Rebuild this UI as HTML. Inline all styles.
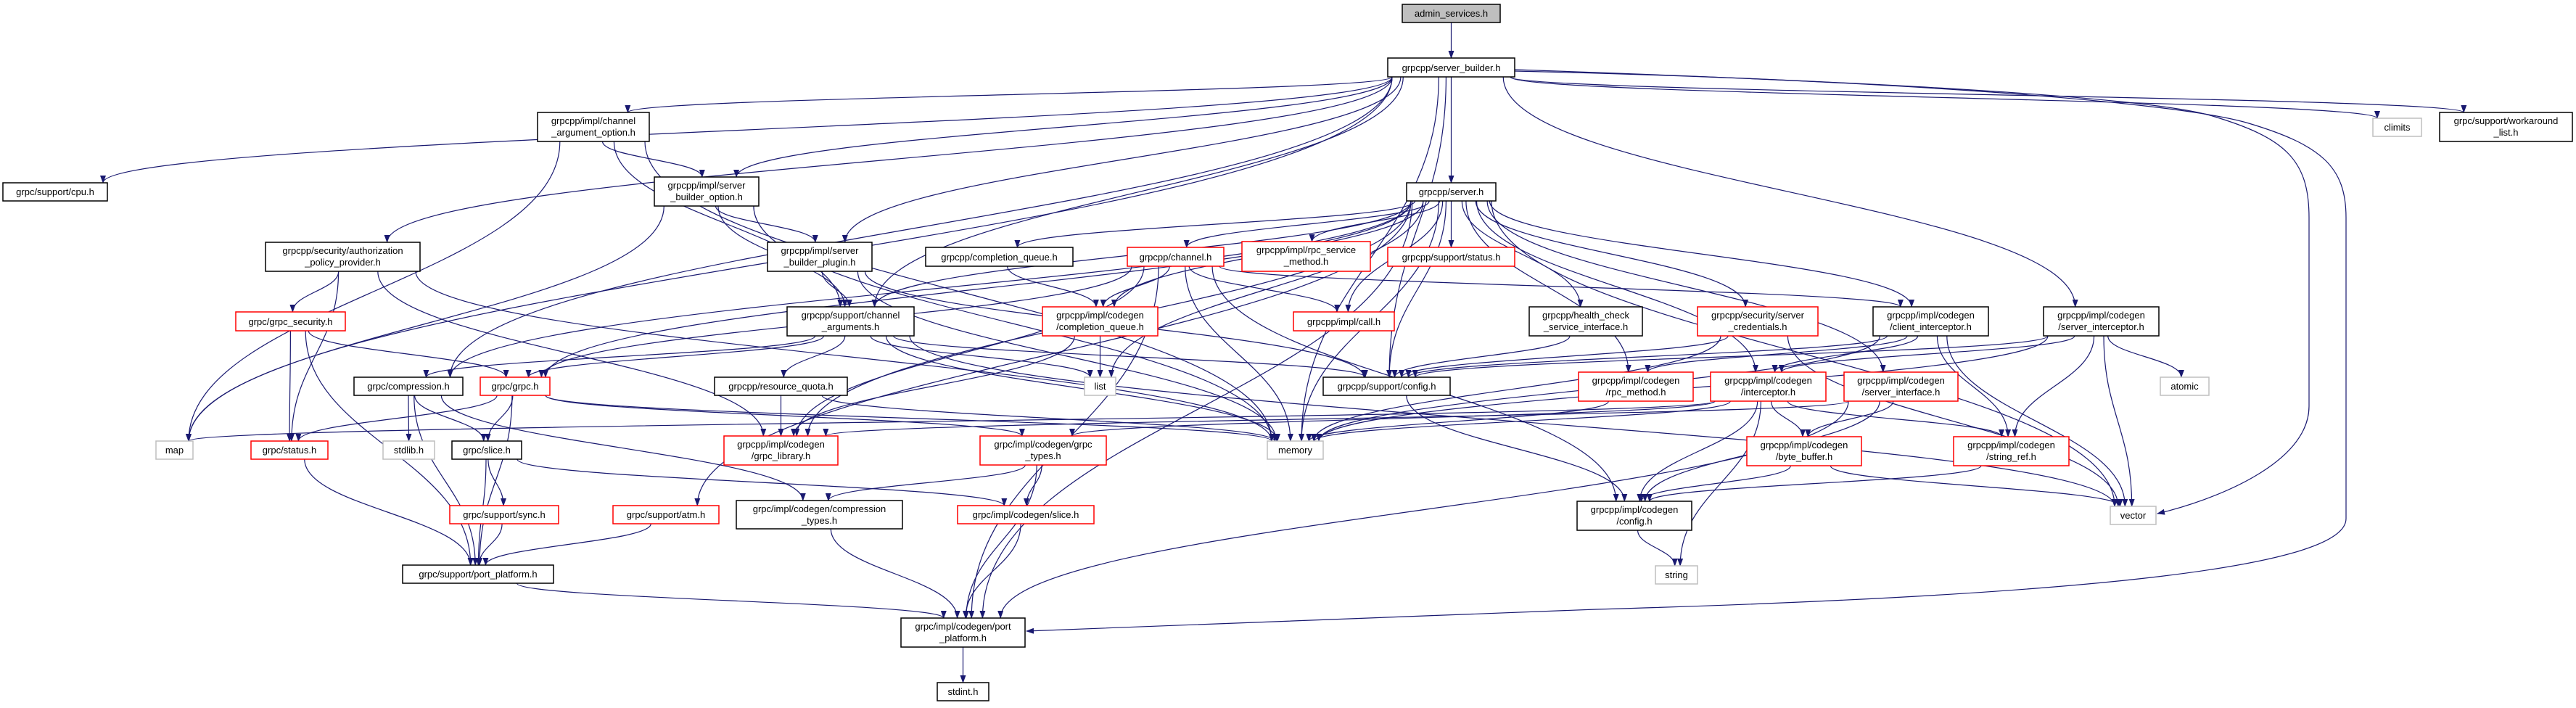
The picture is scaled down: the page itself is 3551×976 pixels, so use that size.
<!DOCTYPE html>
<html><head><meta charset="utf-8">
<style>
html,body{margin:0;padding:0;background:#fff;}
svg{display:block;}
text{font-family:"Liberation Sans",sans-serif;font-size:13px;fill:#000;}
</style></head>
<body>
<svg id="g" width="3551" height="976" viewBox="0 0 3551 976" xmlns="http://www.w3.org/2000/svg">
<defs>
<marker id="ah" markerWidth="11" markerHeight="8" refX="10" refY="4" orient="auto" markerUnits="userSpaceOnUse">
<path d="M0,0 L11,4 L0,8 z" fill="#191970"/>
</marker>
</defs>
<g id="edges" fill="none" stroke="#191970" stroke-width="1.2"></g>
<g id="nodes" stroke-width="1.5">
<g id="admin"><rect x="1933" y="6" width="135" height="25" fill="#bfbfbf" stroke="#000"/><text x="2000.5" y="23" text-anchor="middle">admin_services.h</text></g>
<g id="sb"><rect x="1913" y="80" width="175" height="26" fill="#fff" stroke="#000"/><text x="2000.5" y="98" text-anchor="middle">grpcpp/server_builder.h</text></g>
<g id="cpu"><rect x="4" y="252" width="144" height="25" fill="#fff" stroke="#000"/><text x="76" y="269" text-anchor="middle">grpc/support/cpu.h</text></g>
<g id="cao"><rect x="741" y="155" width="154" height="40" fill="#fff" stroke="#000"/><text x="818" y="171" text-anchor="middle">grpcpp/impl/channel</text><text x="818" y="187" text-anchor="middle">_argument_option.h</text></g>
<g id="clim"><rect x="3271" y="163" width="67" height="25" fill="#fff" stroke="#bfbfbf"/><text x="3304.5" y="180" text-anchor="middle">climits</text></g>
<g id="wal"><rect x="3363" y="155" width="183" height="40" fill="#fff" stroke="#000"/><text x="3454.5" y="171" text-anchor="middle">grpc/support/workaround</text><text x="3454.5" y="187" text-anchor="middle">_list.h</text></g>
<g id="sbo"><rect x="902" y="244" width="144" height="40" fill="#fff" stroke="#000"/><text x="974" y="260" text-anchor="middle">grpcpp/impl/server</text><text x="974" y="276" text-anchor="middle">_builder_option.h</text></g>
<g id="srv"><rect x="1939" y="252" width="123" height="25" fill="#fff" stroke="#000"/><text x="2000.5" y="269" text-anchor="middle">grpcpp/server.h</text></g>
<g id="auth"><rect x="366" y="334" width="213" height="40" fill="#fff" stroke="#000"/><text x="472.5" y="350" text-anchor="middle">grpcpp/security/authorization</text><text x="472.5" y="366" text-anchor="middle">_policy_provider.h</text></g>
<g id="sbp"><rect x="1058" y="334" width="144" height="40" fill="#fff" stroke="#000"/><text x="1130" y="350" text-anchor="middle">grpcpp/impl/server</text><text x="1130" y="366" text-anchor="middle">_builder_plugin.h</text></g>
<g id="cq"><rect x="1276" y="341" width="203" height="26" fill="#fff" stroke="#000"/><text x="1377.5" y="359" text-anchor="middle">grpcpp/completion_queue.h</text></g>
<g id="chan"><rect x="1554" y="341" width="133" height="26" fill="#fff" stroke="#ff0000"/><text x="1620.5" y="359" text-anchor="middle">grpcpp/channel.h</text></g>
<g id="rsm"><rect x="1712" y="333" width="177" height="41" fill="#fff" stroke="#ff0000"/><text x="1800.5" y="349" text-anchor="middle">grpcpp/impl/rpc_service</text><text x="1800.5" y="365" text-anchor="middle">_method.h</text></g>
<g id="st"><rect x="1913" y="341" width="175" height="26" fill="#fff" stroke="#ff0000"/><text x="2000.5" y="359" text-anchor="middle">grpcpp/support/status.h</text></g>
<g id="hc"><rect x="2108" y="423" width="156" height="40" fill="#fff" stroke="#000"/><text x="2186" y="439" text-anchor="middle">grpcpp/health_check</text><text x="2186" y="455" text-anchor="middle">_service_interface.h</text></g>
<g id="sc"><rect x="2340" y="423" width="166" height="40" fill="#fff" stroke="#ff0000"/><text x="2423" y="439" text-anchor="middle">grpcpp/security/server</text><text x="2423" y="455" text-anchor="middle">_credentials.h</text></g>
<g id="ci"><rect x="2582" y="423" width="159" height="40" fill="#fff" stroke="#000"/><text x="2661.5" y="439" text-anchor="middle">grpcpp/impl/codegen</text><text x="2661.5" y="455" text-anchor="middle">/client_interceptor.h</text></g>
<g id="si"><rect x="2817" y="423" width="159" height="40" fill="#fff" stroke="#000"/><text x="2896.5" y="439" text-anchor="middle">grpcpp/impl/codegen</text><text x="2896.5" y="455" text-anchor="middle">/server_interceptor.h</text></g>
<g id="gsec"><rect x="325" y="430" width="151" height="26" fill="#fff" stroke="#ff0000"/><text x="400.5" y="448" text-anchor="middle">grpc/grpc_security.h</text></g>
<g id="ca"><rect x="1085" y="423" width="175" height="40" fill="#fff" stroke="#000"/><text x="1172.5" y="439" text-anchor="middle">grpcpp/support/channel</text><text x="1172.5" y="455" text-anchor="middle">_arguments.h</text></g>
<g id="ccq"><rect x="1437" y="423" width="159" height="40" fill="#fff" stroke="#ff0000"/><text x="1516.5" y="439" text-anchor="middle">grpcpp/impl/codegen</text><text x="1516.5" y="455" text-anchor="middle">/completion_queue.h</text></g>
<g id="call"><rect x="1783" y="430" width="139" height="26" fill="#fff" stroke="#ff0000"/><text x="1852.5" y="448" text-anchor="middle">grpcpp/impl/call.h</text></g>
<g id="comp"><rect x="488" y="520" width="150" height="25" fill="#fff" stroke="#000"/><text x="563" y="537" text-anchor="middle">grpc/compression.h</text></g>
<g id="grpc"><rect x="662" y="520" width="96" height="25" fill="#fff" stroke="#ff0000"/><text x="710" y="537" text-anchor="middle">grpc/grpc.h</text></g>
<g id="rq"><rect x="985" y="520" width="183" height="25" fill="#fff" stroke="#000"/><text x="1076.5" y="537" text-anchor="middle">grpcpp/resource_quota.h</text></g>
<g id="list"><rect x="1495" y="520" width="43" height="25" fill="#fff" stroke="#bfbfbf"/><text x="1516.5" y="537" text-anchor="middle">list</text></g>
<g id="cfg"><rect x="1824" y="520" width="175" height="25" fill="#fff" stroke="#000"/><text x="1911.5" y="537" text-anchor="middle">grpcpp/support/config.h</text></g>
<g id="rm"><rect x="2176" y="513" width="158" height="40" fill="#fff" stroke="#ff0000"/><text x="2255" y="529" text-anchor="middle">grpcpp/impl/codegen</text><text x="2255" y="545" text-anchor="middle">/rpc_method.h</text></g>
<g id="ic"><rect x="2358" y="513" width="159" height="40" fill="#fff" stroke="#ff0000"/><text x="2437.5" y="529" text-anchor="middle">grpcpp/impl/codegen</text><text x="2437.5" y="545" text-anchor="middle">/interceptor.h</text></g>
<g id="sif"><rect x="2542" y="513" width="157" height="40" fill="#fff" stroke="#ff0000"/><text x="2620.5" y="529" text-anchor="middle">grpcpp/impl/codegen</text><text x="2620.5" y="545" text-anchor="middle">/server_interface.h</text></g>
<g id="atomic"><rect x="2978" y="520" width="67" height="25" fill="#fff" stroke="#bfbfbf"/><text x="3011.5" y="537" text-anchor="middle">atomic</text></g>
<g id="map"><rect x="215" y="608" width="51" height="25" fill="#fff" stroke="#bfbfbf"/><text x="240.5" y="625" text-anchor="middle">map</text></g>
<g id="gst"><rect x="346" y="608" width="106" height="25" fill="#fff" stroke="#ff0000"/><text x="399" y="625" text-anchor="middle">grpc/status.h</text></g>
<g id="stdlib"><rect x="528" y="608" width="71" height="25" fill="#fff" stroke="#bfbfbf"/><text x="563.5" y="625" text-anchor="middle">stdlib.h</text></g>
<g id="slice"><rect x="623" y="608" width="96" height="25" fill="#fff" stroke="#000"/><text x="671" y="625" text-anchor="middle">grpc/slice.h</text></g>
<g id="glib"><rect x="998" y="601" width="157" height="40" fill="#fff" stroke="#ff0000"/><text x="1076.5" y="617" text-anchor="middle">grpcpp/impl/codegen</text><text x="1076.5" y="633" text-anchor="middle">/grpc_library.h</text></g>
<g id="gt"><rect x="1351" y="601" width="174" height="40" fill="#fff" stroke="#ff0000"/><text x="1438" y="617" text-anchor="middle">grpc/impl/codegen/grpc</text><text x="1438" y="633" text-anchor="middle">_types.h</text></g>
<g id="mem"><rect x="1747" y="608" width="77" height="25" fill="#fff" stroke="#bfbfbf"/><text x="1785.5" y="625" text-anchor="middle">memory</text></g>
<g id="bb"><rect x="2408" y="602" width="158" height="40" fill="#fff" stroke="#ff0000"/><text x="2487" y="618" text-anchor="middle">grpcpp/impl/codegen</text><text x="2487" y="634" text-anchor="middle">/byte_buffer.h</text></g>
<g id="sr"><rect x="2693" y="602" width="159" height="40" fill="#fff" stroke="#ff0000"/><text x="2772.5" y="618" text-anchor="middle">grpcpp/impl/codegen</text><text x="2772.5" y="634" text-anchor="middle">/string_ref.h</text></g>
<g id="vec"><rect x="2909" y="698" width="63" height="25" fill="#fff" stroke="#bfbfbf"/><text x="2940.5" y="715" text-anchor="middle">vector</text></g>
<g id="sync"><rect x="620" y="697" width="150" height="25" fill="#fff" stroke="#ff0000"/><text x="695" y="714" text-anchor="middle">grpc/support/sync.h</text></g>
<g id="atm"><rect x="845" y="697" width="146" height="25" fill="#fff" stroke="#ff0000"/><text x="918" y="714" text-anchor="middle">grpc/support/atm.h</text></g>
<g id="ct"><rect x="1015" y="690" width="229" height="39" fill="#fff" stroke="#000"/><text x="1129.5" y="706" text-anchor="middle">grpc/impl/codegen/compression</text><text x="1129.5" y="722" text-anchor="middle">_types.h</text></g>
<g id="cs"><rect x="1320" y="697" width="188" height="25" fill="#fff" stroke="#ff0000"/><text x="1414" y="714" text-anchor="middle">grpc/impl/codegen/slice.h</text></g>
<g id="ccfg"><rect x="2174" y="691" width="158" height="40" fill="#fff" stroke="#000"/><text x="2253" y="707" text-anchor="middle">grpcpp/impl/codegen</text><text x="2253" y="723" text-anchor="middle">/config.h</text></g>
<g id="pp"><rect x="555" y="779" width="208" height="25" fill="#fff" stroke="#000"/><text x="659" y="796" text-anchor="middle">grpc/support/port_platform.h</text></g>
<g id="str"><rect x="2282" y="780" width="58" height="25" fill="#fff" stroke="#bfbfbf"/><text x="2311" y="797" text-anchor="middle">string</text></g>
<g id="cpp"><rect x="1242" y="852" width="171" height="40" fill="#fff" stroke="#000"/><text x="1327.5" y="868" text-anchor="middle">grpc/impl/codegen/port</text><text x="1327.5" y="884" text-anchor="middle">_platform.h</text></g>
<g id="stdint"><rect x="1292" y="941" width="71" height="25" fill="#fff" stroke="#000"/><text x="1327.5" y="958" text-anchor="middle">stdint.h</text></g>
</g>
</svg>
<script>
(function(){
var E=[
["admin","sb"],
["sb","cpu"],["sb","map"],["sb","cao"],["sb","auth"],["sb","comp"],["sb","sbo"],["sb","sbp"],["sb","srv"],["sb","cfg"],["sb","si"],["sb","clim"],["sb","wal"],["sb","ca"],["sb","mem"],
["srv","cq"],["srv","chan"],["srv","rsm"],["srv","st"],["srv","call"],["srv","hc"],["srv","sc"],["srv","ci"],["srv","ca"],["srv","comp"],["srv","ccq"],["srv","list"],["srv","mem"],["srv","cfg"],["srv","rm"],["srv","ic"],["srv","sif"],["srv","vec"],["srv","atm"],["srv","cpp"],["srv","grpc"],["srv","glib"],
["cao","map"],["cao","sbo"],["cao","ca"],["cao","mem"],
["sbo","map"],["sbo","sbp"],["sbo","ca"],["sbo","mem"],
["sbp","ca"],["sbp","cfg"],["sbp","mem"],
["auth","gsec"],["auth","gst"],["auth","glib"],["auth","mem"],
["gsec","grpc"],["gsec","gst"],["gsec","pp"],
["ca","grpc"],["ca","comp"],["ca","rq"],["ca","list"],["ca","cfg"],["ca","vec"],["ca","mem"],
["rq","glib"],["rq","mem"],
["cq","ccq"],
["chan","ccq"],["chan","call"],["chan","grpc"],["chan","glib"],["chan","mem"],["chan","ccfg"],["chan","ci"],["chan","cpp"],
["ccq","list"],["ccq","glib"],
["comp","pp"],["comp","stdlib"],["comp","slice"],["comp","ct"],
["grpc","gst"],["grpc","slice"],["grpc","gt"],["grpc","pp"],["grpc","mem"],
["slice","sync"],["slice","pp"],["slice","cs"],
["sync","pp"],["atm","pp"],["gst","pp"],["pp","cpp"],
["gt","ct"],["gt","cs"],["gt","cpp"],["ct","cpp"],["cs","cpp"],["cpp","stdint"],
["hc","cfg"],["sc","cfg"],["sc","mem"],["sc","vec"],
["ci","cfg"],["ci","mem"],["ci","ic"],["ci","sr"],["ci","vec"],["ci","rm"],
["si","atomic"],["si","vec"],["si","sr"],["si","ic"],["si","mem"],["si","cfg"],
["rm","mem"],
["ic","mem"],["ic","ccfg"],["ic","bb"],["ic","sr"],["ic","str"],["ic","gt"],["ic","map"],
["sif","bb"],["sif","ccfg"],["sif","cpp"],["sif","glib"],
["bb","ccfg"],["bb","vec"],["sr","ccfg"],["cfg","ccfg"],["ccfg","str"]
];
function R(id){var r=document.querySelector('#'+id+' rect');var x=+r.getAttribute('x'),y=+r.getAttribute('y'),w=+r.getAttribute('width'),h=+r.getAttribute('height');return {x:x,y:y,x2:x+w,y2:y+h,cx:x+w/2,cy:y+h/2,hw:w/2,hh:h/2};}
function clip(r,dx,dy){var t=Infinity;if(dx)t=Math.min(t,r.hw/Math.abs(dx));if(dy)t=Math.min(t,r.hh/Math.abs(dy));return [r.cx+dx*t,r.cy+dy*t];}
function cl(v,a,b){return Math.max(a,Math.min(b,v));}
var g=document.getElementById('edges');var ns='http://www.w3.org/2000/svg';
function add(d){var p=document.createElementNS(ns,'path');p.setAttribute('d',d);p.setAttribute('marker-end','url(#ah)');g.appendChild(p);}
function f(v){return v.toFixed(1);}
E.forEach(function(e){var a=R(e[0]),b=R(e[1]);
var dx=b.cx-a.cx,dy=b.cy-a.cy;
if(b.y>a.y2+12){
 var sx=cl(a.cx+dx*0.08,a.x+6,a.x2-6),sy=a.y2;
 var tx=cl(b.cx-dx*0.04,b.x+6,b.x2-6),ty=b.y;
 var k=(ty-sy)*0.45;
 add('M'+f(sx)+','+f(sy)+' C'+f(sx)+','+f(sy+k)+' '+f(tx)+','+f(ty-k)+' '+f(tx)+','+f(ty));
}else{
 var p1=clip(a,dx,dy),p2=clip(b,-dx,-dy);
 var mx=(p1[0]+p2[0])/2,my=(p1[1]+p2[1])/2;
 var bend=Math.min(40,Math.abs(dx)*0.06);
 add('M'+f(p1[0])+','+f(p1[1])+' Q'+f(mx)+','+f(my+bend)+' '+f(p2[0])+','+f(p2[1]));
}
});
add('M2088,98 C2600,110 3000,140 3100,170 C3200,200 3234,230 3234,300 L3234,715 C3234,780 2900,820 2200,840 C1800,855 1600,865 1415,870');
add('M2088,96 C2500,110 2950,130 3050,160 C3150,190 3183,220 3183,300 L3183,560 C3183,640 3050,690 2974,708');
})();
</script>
</body></html>
